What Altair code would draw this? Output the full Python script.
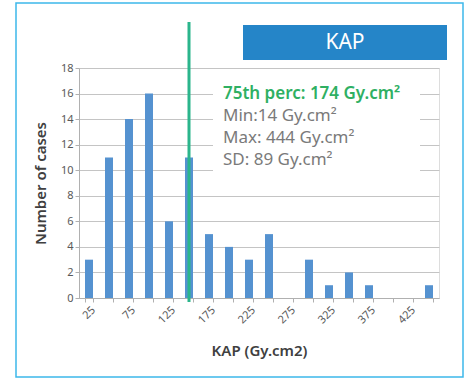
import altair as alt
import pandas as pd

kap_bins = [25, 50, 75, 100, 125, 150, 175, 200, 225, 250, 275, 300, 325, 350, 375, 400, 425, 450]
cases = [3, 11, 14, 16, 6, 11, 5, 4, 3, 5, 0, 3, 1, 2, 1, 0, 0, 1]
perc75_bin = [150]
stats_lines = ["75th perc: 174 Gy.cm²", "Min:14 Gy.cm²", "Max: 444 Gy.cm²", "SD: 89 Gy.cm²"]
stats_colors = ["#2fb063", "#7a7a7a", "#7a7a7a", "#7a7a7a"]
title_text = ["KAP"]

W, H = 360, 230
FONT = "Noto Sans"

df = pd.DataFrame({"kap": kap_bins, "cases": cases})
xscale = alt.Scale(domain=kap_bins, paddingInner=0.6, paddingOuter=0.3)

bars = alt.Chart(df).mark_bar(color="#5592d0").encode(
    x=alt.X("kap:O", scale=xscale,
            axis=alt.Axis(title="KAP (Gy.cm2)", labelAngle=-45,
                          labelExpr="(datum.value - 25) % 50 == 0 ? datum.label : ''",
                          tickBand="extent", tickSize=4, tickColor="#b0b0b0",
                          domainColor="#b0b0b0", labelColor="#595959", labelFontSize=11,
                          labelFont=FONT, titleFont=FONT, titleFontSize=15,
                          titleFontWeight=600, titleColor="#404040", titlePadding=18,
                          grid=False)),
    y=alt.Y("cases:Q", scale=alt.Scale(domain=[0, 18]),
            axis=alt.Axis(title="Number of cases", values=list(range(0, 19, 2)),
                          tickSize=4, tickColor="#b0b0b0", domainColor="#b0b0b0",
                          gridColor="#c4c4c4", labelColor="#595959", labelFontSize=11,
                          labelFont=FONT, titleFont=FONT, titleFontSize=15,
                          titleFontWeight=600, titleColor="#404040", titlePadding=12)),
)

# white box behind the stats text
stats_bg = alt.Chart(pd.DataFrame({"a": [0]})).mark_rect(color="white").encode(
    x=alt.value(134), x2=alt.value(341), y=alt.value(14), y2=alt.value(107)
)

stats_df = pd.DataFrame({"t": stats_lines, "c": stats_colors, "i": [0, 1, 2, 3]})
ys = alt.Y("i:O", scale=alt.Scale(domain=[0, 1, 2, 3], range=[26, 92], padding=0), axis=None)
stats_head = alt.Chart(stats_df).transform_filter("datum.i == 0").mark_text(
    align="left", baseline="middle", font=FONT, fontSize=17, fontWeight=600).encode(
    x=alt.value(144), y=ys, text="t:N", color=alt.Color("c:N", scale=None),
)
stats_rest = alt.Chart(stats_df).transform_filter("datum.i > 0").mark_text(
    align="left", baseline="middle", font=FONT, fontSize=17).encode(
    x=alt.value(144), y=ys, text="t:N", color=alt.Color("c:N", scale=None),
)

rule = alt.Chart(pd.DataFrame({"kap": perc75_bin})).mark_rule(color="#2bb58c", strokeWidth=3).encode(
    x=alt.X("kap:O", scale=xscale),
    y=alt.value(-46), y2=alt.value(H + 4),
)

title_box = alt.Chart(pd.DataFrame({"a": [0]})).mark_rect(color="#2585c8").encode(
    x=alt.value(164), x2=alt.value(368), y=alt.value(-43), y2=alt.value(-8)
)
title = alt.Chart(pd.DataFrame({"t": title_text})).mark_text(
    color="white", fontSize=21, font=FONT, align="center", baseline="middle").encode(
    x=alt.value(266), y=alt.value(-25), text="t:N"
)

frame = alt.Chart(pd.DataFrame({"a": [0]})).mark_rect(
    fill=None, stroke="#3db8ea", strokeWidth=1.5).encode(
    x=alt.value(-63), x2=alt.value(384), y=alt.value(-65), y2=alt.value(309)
)

chart = alt.layer(frame, bars, stats_bg, stats_head, stats_rest, rule, title_box, title).resolve_scale(
    color="independent", y="independent"
).properties(
    width=W, height=H,
    autosize=alt.AutoSizeParams(type="none"),
    padding={"left": 79, "top": 68, "right": 28, "bottom": 80},
).configure_view(stroke=None).configure(background="white")

chart.save("out.html", embed_options={"renderer": "svg", "actions": False})
